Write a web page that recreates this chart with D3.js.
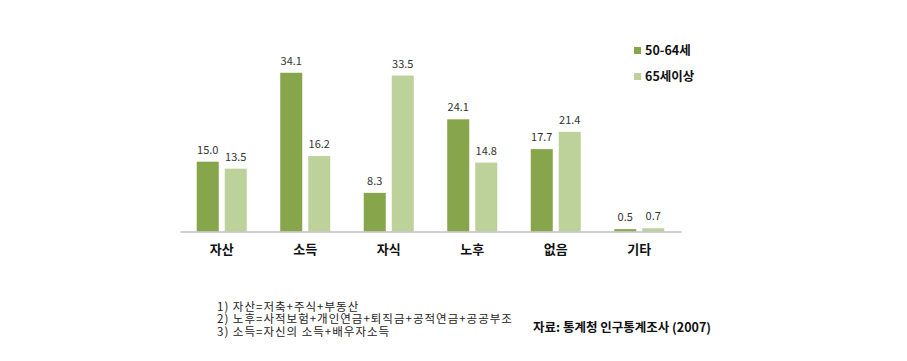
<!DOCTYPE html>
<html>
<head>
<meta charset="utf-8">
<script src="https://cdnjs.cloudflare.com/ajax/libs/d3/7.8.5/d3.min.js"></script>
<style>
  body { margin: 0; background: #fff; }
  svg { font-family: "Noto Sans CJK KR", "Malgun Gothic", sans-serif; }
</style>
</head>
<body>
<svg width="907" height="361"></svg>
<script>
var categories = ["자산", "소득", "자식", "노후", "없음", "기타"];
var seriesNames = ["50-64세", "65세이상"];
var values5064 = [15.0, 34.1, 8.3, 24.1, 17.7, 0.5];
var values65 = [13.5, 16.2, 33.5, 14.8, 21.4, 0.7];
var notes = [
  "1) 자산=저축+주식+부동산",
  "2) 노후=사적보험+개인연금+퇴직금+공적연금+공공부조",
  "3) 소득=자신의 소득+배우자소득"
];
var source = "자료: 통계청 인구통계조사 (2007)";
var colors = ["#87a54b", "#bcd29a"];

var svg = d3.select("svg");

var x = d3.scaleBand().domain(categories).range([180, 681]).paddingInner(0).paddingOuter(0);
var y = d3.scaleLinear().domain([0, 40]).range([231.5, 231.5 - 40 * 4.655]);

var rows = categories.map(function(c, i) {
  return { cat: c, vals: [values5064[i], values65[i]] };
});

var barW = 22, gap = 6;

var g = svg.append("g");
var groups = g.selectAll("g.grp").data(rows).enter().append("g")
  .attr("transform", function(d) { return "translate(" + (x(d.cat) + x.bandwidth() / 2) + ",0)"; });

groups.selectAll("rect").data(function(d) { return d.vals; }).enter().append("rect")
  .attr("x", function(v, j) { return j === 0 ? -gap / 2 - barW : gap / 2; })
  .attr("y", function(v) { return y(v); })
  .attr("width", barW)
  .attr("height", function(v) { return y(0) - y(v); })
  .attr("fill", function(v, j) { return colors[j]; });

groups.selectAll("text.val").data(function(d) { return d.vals; }).enter().append("text")
  .attr("class", "val")
  .attr("x", function(v, j) { return j === 0 ? -gap / 2 - barW / 2 : gap / 2 + barW / 2; })
  .attr("y", function(v) { return y(v) - 8; })
  .attr("text-anchor", "middle")
  .attr("font-size", 11)
  .attr("fill", "#333")
  .text(function(v) { return v.toFixed(1); });

// axis
var axis = d3.axisBottom(x).tickSize(0).tickPadding(13);
var ax = svg.append("g").attr("transform", "translate(0," + y(0) + ")").call(axis);
ax.select(".domain").attr("stroke", "#bfbfbf").attr("stroke-width", 1.5);
ax.selectAll("text")
  .attr("font-size", 13)
  .attr("font-weight", "bold")
  .attr("fill", "#111")
  .attr("font-family", "'Noto Sans CJK KR', sans-serif");

// legend
var leg = svg.append("g").attr("transform", "translate(634,47)");
seriesNames.forEach(function(n, i) {
  var li = leg.append("g").attr("transform", "translate(0," + i * 26 + ")");
  li.append("rect").attr("width", 7).attr("height", 7).attr("fill", colors[i]);
  li.append("text").attr("x", 11).attr("y", 7.5)
    .attr("font-size", 12.5).attr("font-weight", "bold").attr("fill", "#111")
    .text(n);
});

// notes
svg.append("g").selectAll("text").data(notes).enter().append("text")
  .attr("x", 217)
  .attr("y", function(d, i) { return 310.5 + i * 12.5; })
  .attr("font-size", 11.5)
  .attr("letter-spacing", 1)
  .attr("fill", "#222")
  .text(function(d) { return d; });

svg.append("text")
  .attr("x", 533).attr("y", 332)
  .attr("font-size", 12.5).attr("font-weight", "bold").attr("fill", "#111")
  .text(source);
</script>
</body>
</html>
